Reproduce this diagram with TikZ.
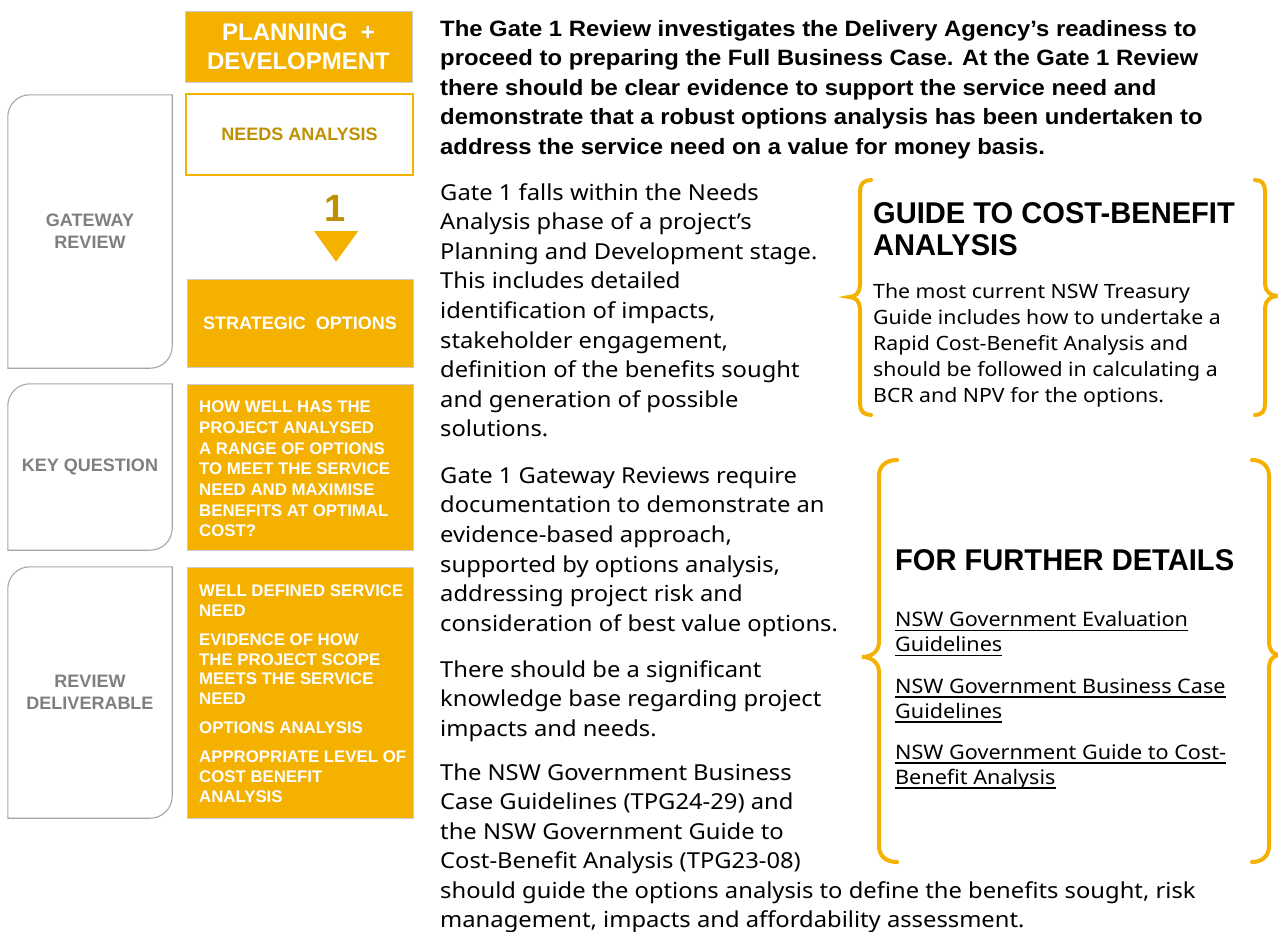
\documentclass[tikz,border=0pt]{standalone}
\usepackage{fontspec}
\setmainfont{Liberation Sans}
\newfontfamily\bodyfont[FakeStretch=1.08]{Noto Sans}
\newfontfamily\headfont[FakeStretch=0.97]{Liberation Sans Bold}
\newfontfamily\introfont[FakeStretch=1.075]{Liberation Sans Bold}
\definecolor{gold}{RGB}{245,177,0}
\definecolor{darkgold}{RGB}{191,144,0}
\definecolor{greytxt}{RGB}{127,127,127}
\definecolor{greyline}{RGB}{166,166,166}
\newcommand\mylink[1]{\setbox0=\hbox{#1}\rlap{\rule[-4.6pt]{\wd0}{1.5pt}}\box0}
\begin{document}
\begin{tikzpicture}[x=1pt,y=-1pt,
  goldbox/.style={fill=gold,draw=gray!40,line width=0.8pt,inner sep=0pt,text=white,align=center,font=\bfseries\fontsize{18}{21}\selectfont},
  greybox/.style={inner sep=0pt,text=greytxt,align=center,minimum width=164pt,font=\bfseries\fontsize{18}{22}\selectfont},
  outline/.style={draw=greyline,line width=1.1pt},
  brace/.style={draw=gold,line width=4pt,line cap=round},
  listtxt/.style={anchor=base west,inner sep=0pt,align=left,text=white,font=\bfseries\fontsize{16.8}{20.7}\selectfont},
  bodytxt/.style={anchor=base west,inner sep=0pt,align=left,font=\bodyfont\fontsize{22}{29.6}\selectfont},
  sidetxt/.style={anchor=base west,inner sep=0pt,align=left,font=\bodyfont\fontsize{19.7}{26.1}\selectfont},
  headtxt/.style={anchor=base west,inner sep=0pt,align=left,font=\headfont\fontsize{30}{32}\selectfont},
  linktxt/.style={anchor=base west,inner sep=0pt,align=left,font=\bodyfont\fontsize{20}{25.3}\selectfont}
]
\useasboundingbox (0,0) rectangle (1278,932);
\fill[white] (0,0) rectangle (1278,932);

% ---------- left column: grey labels ----------
\node[greybox,minimum height=273pt] (gw) at (90,231.5) {GATEWAY\\REVIEW};
\node[greybox,minimum height=166pt] (kq) at (90,467) {KEY QUESTION};
\node[greybox,minimum height=251pt] (rd) at (90,692.5) {REVIEW\\DELIVERABLE};
\foreach \b in {gw,kq,rd}{
  \draw[outline] (\b.south west) -- (\b.west) {[rounded corners=22pt] -- (\b.north west) -- (\b.north)}
     -- (\b.north east) -- (\b.east) {[rounded corners=22pt] -- (\b.south east) -- (\b.south)} -- cycle;
}

% ---------- left column: gold boxes ----------
\node[goldbox,minimum width=227pt,minimum height=71pt,font=\bfseries\fontsize{24}{29}\selectfont] (plan) at (298.5,46.5) {PLANNING~~+\\DEVELOPMENT};
\node[goldbox,fill=white,draw=gold,line width=1.5pt,text=darkgold,minimum width=227pt,minimum height=81pt] (needs) at (299.5,134.5) {NEEDS ANALYSIS};
\node[inner sep=0pt,text=darkgold,font=\bfseries\fontsize{38}{40}\selectfont,anchor=base] (one) at (335,221.5) {1};
\fill[gold] (314,231) -- (358.3,231) -- (336,261.7) -- cycle;
\node[goldbox,minimum width=226pt,minimum height=88pt] (strat) at (300,323) {STRATEGIC~~OPTIONS};
\node[goldbox,minimum width=226pt,minimum height=166pt] (kqbox) at (300,467) {};
\node[goldbox,minimum width=226pt,minimum height=251pt] (rdbox) at (300,692.5) {};
% (base anchor = baseline of the last line)
\node[listtxt] (kqtext) at (199,536.9) {HOW WELL HAS THE\\PROJECT ANALYSED\\A RANGE OF OPTIONS\\TO MEET THE SERVICE\\NEED AND MAXIMISE\\BENEFITS AT OPTIMAL\\COST?};
\node[listtxt,font=\bfseries\fontsize{16.8}{19.7}\selectfont] (rdtext) at (199,802.3) {WELL DEFINED SERVICE\\NEED\\[9.5pt]EVIDENCE OF HOW\\THE PROJECT SCOPE\\MEETS THE SERVICE\\NEED\\[9.5pt]OPTIONS ANALYSIS\\[9.5pt]APPROPRIATE LEVEL OF\\COST BENEFIT\\ANALYSIS};

% ---------- middle text ----------
\node[bodytxt,font=\introfont\fontsize{22.2}{29.5}\selectfont] (p1) at (440,154) {The Gate 1 Review investigates the Delivery Agency’s readiness to\\proceed to preparing the Full Business Case. At the Gate 1 Review\\there should be clear evidence to support the service need and\\demonstrate that a robust options analysis has been undertaken to\\address the service need on a value for money basis.};
\node[bodytxt] (p2) at (440,436.8) {Gate 1 falls within the Needs\\Analysis phase of a project’s\\Planning and Development stage.\\This includes detailed\\identification of impacts,\\stakeholder engagement,\\definition of the benefits sought\\and generation of possible\\solutions.};
\node[bodytxt] (p3) at (440,631.3) {Gate 1 Gateway Reviews require\\documentation to demonstrate an\\evidence-based approach,\\supported by options analysis,\\addressing project risk and\\consideration of best value options.};
\node[bodytxt] (p4) at (440,736.2) {There should be a significant\\knowledge base regarding project\\impacts and needs.};
\node[bodytxt,font=\bodyfont\fontsize{22}{29.4}\selectfont] (p5) at (440,927.5) {The NSW Government Business\\Case Guidelines (TPG24-29) and\\the NSW Government Guide to\\Cost-Benefit Analysis (TPG23-08)\\should guide the options analysis to define the benefits sought, risk\\management, impacts and affordability assessment.};

% ---------- guide box ----------
\draw[brace] (871,180) .. controls (864,180) and (860,184) .. (860,191) -- (860,285)
  .. controls (860,292) and (856,297) .. (849,297) .. controls (856,297) and (860,302) .. (860,309)
  -- (860,404) .. controls (860,411) and (864,415) .. (871,415);
\draw[brace] (1255,180) .. controls (1262,180) and (1265,184) .. (1265,191) -- (1265,284)
  .. controls (1265,291) and (1270,296) .. (1279,296) .. controls (1270,296) and (1265,301) .. (1265,308)
  -- (1265,404) .. controls (1265,411) and (1262,415) .. (1255,415);
\node[headtxt] (gh) at (873,255.3) {GUIDE TO COST-BENEFIT\\ANALYSIS};
\node[sidetxt] (gb) at (873,402.9) {The most current NSW Treasury\\Guide includes how to undertake a\\Rapid Cost-Benefit Analysis and\\should be followed in calculating a\\BCR and NPV for the options.};

% ---------- further details box ----------
\draw[brace] (897,460) .. controls (886,460) and (879,466) .. (879,476) -- (879,642)
  .. controls (879,651) and (872,657) .. (862,657) .. controls (872,657) and (879,663) .. (879,672)
  -- (879,846) .. controls (879,856) and (886,862) .. (897,862);
\draw[brace] (1252,460) .. controls (1262,460) and (1269,466) .. (1269,476) -- (1269,641)
  .. controls (1269,650) and (1273,655) .. (1280,655) .. controls (1273,655) and (1269,660) .. (1269,669)
  -- (1269,846) .. controls (1269,856) and (1262,862) .. (1252,862);
\node[headtxt] (fh) at (895,570) {FOR FURTHER DETAILS};
\node[linktxt] (l1) at (895,651.7) {\mylink{NSW Government Evaluation}\\\mylink{Guidelines}};
\node[linktxt] (l2) at (895,718.3) {\mylink{NSW Government Business Case}\\\mylink{Guidelines}};
\node[linktxt] (l3) at (895,784.3) {\mylink{NSW Government Guide to Cost-}\\\mylink{Benefit Analysis}};
\end{tikzpicture}
\end{document}
